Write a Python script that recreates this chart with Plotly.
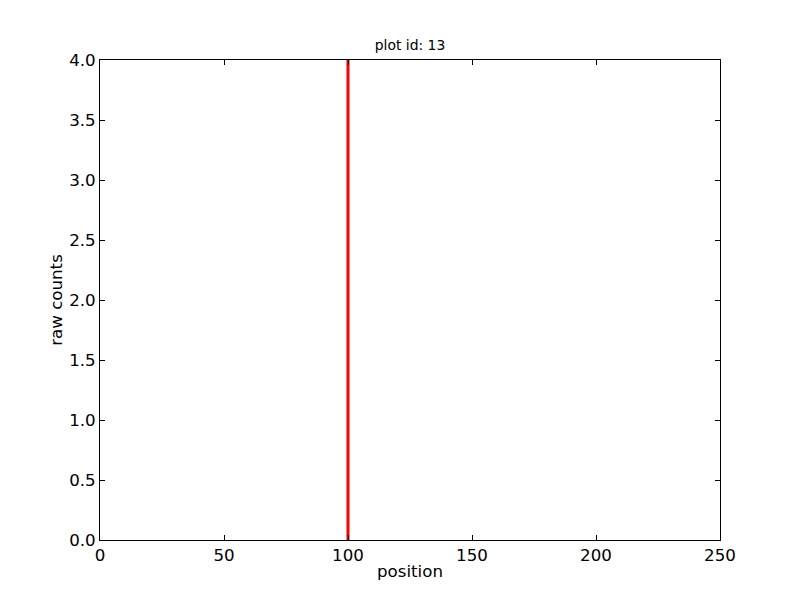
import plotly.graph_objects as go

line_x = [100, 100]
line_y = [0, 4]
x_ticks = [0, 50, 100, 150, 200, 250]
y_ticks = [0.0, 0.5, 1.0, 1.5, 2.0, 2.5, 3.0, 3.5, 4.0]

fig = go.Figure()
fig.add_trace(go.Scatter(x=line_x, y=line_y, mode="lines",
                         line=dict(color="#ff0000", width=3), showlegend=False))

font = "DejaVu Sans"
fs = 16.67
fig.update_layout(
    width=800, height=600,
    margin=dict(l=92, r=88, t=52, b=68),
    paper_bgcolor="white", plot_bgcolor="white",
    font=dict(family=font, size=fs, color="black"),
    title=dict(text="plot id: 13", x=(410 - 8) / 800, xanchor="center", y=1 - 37/600, yanchor="middle",
               font=dict(family=font, size=13.9, color="black")),
    xaxis=dict(range=[0, 250], tickvals=x_ticks, ticktext=[str(v) for v in x_ticks],
               showgrid=False, zeroline=False, showline=True, linecolor="black", linewidth=1,
               mirror="allticks", ticks="inside", ticklen=5, tickcolor="black",
               tickfont=dict(size=fs),
               title=dict(text="position", standoff=1, font=dict(size=fs))),
    yaxis=dict(range=[0, 4], tickvals=y_ticks, ticktext=[f"{v:.1f}" for v in y_ticks],
               showgrid=False, zeroline=False, showline=True, linecolor="black", linewidth=1,
               mirror="allticks", ticks="inside", ticklen=5, tickcolor="black",
               tickfont=dict(size=fs),
               title=dict(text="raw counts", standoff=2, font=dict(size=fs))),
)
fig.write_html("out.html")
